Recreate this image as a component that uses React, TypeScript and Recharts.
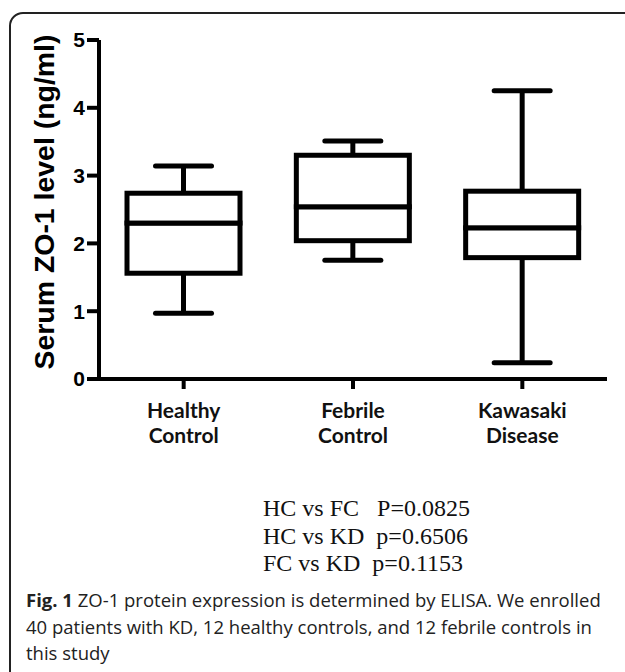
import React from 'react';
import { ComposedChart, Bar, XAxis, YAxis, Label } from 'recharts';

// Box plot values (ng/ml)
const groups = ['Healthy Control', 'Febrile Control', 'Kawasaki Disease'];
const labelTop = ['Healthy', 'Febrile', 'Kawasaki'];
const labelBottom = ['Control', 'Control', 'Disease'];
const minVals = [0.97, 1.75, 0.24];
const q1Vals = [1.56, 2.04, 1.79];
const medianVals = [2.3, 2.54, 2.23];
const q3Vals = [2.74, 3.3, 2.77];
const maxVals = [3.14, 3.51, 4.25];
const yTicks = [0, 1, 2, 3, 4, 5];

const pValues = ['HC vs FC   P=0.0825', 'HC vs KD  p=0.6506', 'FC vs KD  p=0.1153'];

// stacked segments: invisible base, lower whisker, lower box, upper box, upper whisker
const data = groups.map((g, i) => ({
  name: g,
  base: minVals[i],
  lowWhisker: q1Vals[i] - minVals[i],
  lowBox: medianVals[i] - q1Vals[i],
  highBox: q3Vals[i] - medianVals[i],
  highWhisker: maxVals[i] - q3Vals[i],
}));

const LINE = 5;
const CAP = 28;

const Empty = () => <g />;

const LowWhisker = (props: any) => {
  const { x, y, width, height } = props;
  const cx = x + width / 2;
  return (
    <g stroke="#000" strokeWidth={LINE} fill="none">
      <line x1={cx} y1={y} x2={cx} y2={y + height} />
      <line x1={cx - CAP} y1={y + height} x2={cx + CAP} y2={y + height} strokeLinecap="round" />
    </g>
  );
};

const HighWhisker = (props: any) => {
  const { x, y, width, height } = props;
  const cx = x + width / 2;
  return (
    <g stroke="#000" strokeWidth={LINE} fill="none">
      <line x1={cx} y1={y} x2={cx} y2={y + height} />
      <line x1={cx - CAP} y1={y} x2={cx + CAP} y2={y} strokeLinecap="round" />
    </g>
  );
};

const BoxPart = (props: any) => {
  const { x, y, width, height } = props;
  return <rect x={x} y={y} width={width} height={height} fill="#fff" stroke="#000" strokeWidth={LINE} />;
};

const XTick = (props: any) => {
  const { x, y, index } = props;
  return (
    <text
      x={x}
      y={y}
      textAnchor="middle"
      fontFamily="Lato, 'Open Sans', sans-serif"
      fontWeight="bold"
      fontSize={21}
      fill="#111"
    >
      <tspan x={x} dy={27}>{labelTop[index]}</tspan>
      <tspan x={x} dy={25}>{labelBottom[index]}</tspan>
    </text>
  );
};

const YTitle = () => {
  const cx = 45;
  const cy = 202;
  return (
    <text
      x={cx}
      y={cy}
      transform={`rotate(-90, ${cx}, ${cy})`}
      textAnchor="middle"
      dominantBaseline="central"
      fontFamily="'Liberation Sans', Arial, sans-serif"
      fontWeight="bold"
      fontSize={27}
      textLength={335}
      lengthAdjust="spacingAndGlyphs"
      fill="#000"
    >
      Serum ZO-1 level (ng/ml)
    </text>
  );
};

export default function App() {
  return (
    <div
      style={{
        position: 'absolute',
        left: 0,
        top: 0,
        width: 625,
        height: 672,
        overflow: 'hidden',
        background: '#fff',
      }}
    >
      <div
        style={{
          position: 'absolute',
          left: 9,
          top: 12,
          width: 700,
          height: 700,
          border: '2px solid #222',
          borderRadius: 14,
          boxSizing: 'border-box',
        }}
      />
      <div style={{ position: 'absolute', left: 0, top: 0 }}>
        <ComposedChart
          width={625}
          height={460}
          data={data}
          margin={{ top: 40, right: 18, bottom: 0, left: 0 }}
        >
          <XAxis
            dataKey="name"
            height={81}
            tick={<XTick />}
            tickSize={10}
            interval={0}
            axisLine={{ stroke: '#000', strokeWidth: 4 }}
            tickLine={{ stroke: '#000', strokeWidth: 4 }}
          />
          <YAxis
            width={99}
            domain={[0, 5]}
            ticks={yTicks}
            tickSize={12}
            interval={0}
            axisLine={{ stroke: '#000', strokeWidth: 4 }}
            tickLine={{ stroke: '#000', strokeWidth: 4 }}
            tick={{
              fontSize: 21,
              fontWeight: 'bold',
              fill: '#000',
              fontFamily: "'Liberation Sans', Arial, sans-serif",
            }}
          >
            <Label content={<YTitle />} />
          </YAxis>
          <Bar dataKey="base" stackId="a" barSize={113} fill="none" shape={<Empty />} isAnimationActive={false} />
          <Bar dataKey="lowWhisker" stackId="a" barSize={113} shape={<LowWhisker />} isAnimationActive={false} />
          <Bar dataKey="lowBox" stackId="a" barSize={113} shape={<BoxPart />} isAnimationActive={false} />
          <Bar dataKey="highBox" stackId="a" barSize={113} shape={<BoxPart />} isAnimationActive={false} />
          <Bar dataKey="highWhisker" stackId="a" barSize={113} shape={<HighWhisker />} isAnimationActive={false} />
        </ComposedChart>
      </div>
      <div
        style={{
          position: 'absolute',
          left: 263,
          top: 495,
          fontFamily: "'Liberation Serif', 'Times New Roman', serif",
          fontSize: 24,
          lineHeight: '27.5px',
          whiteSpace: 'pre',
          color: '#111',
        }}
      >
        {pValues.map((p) => (
          <div key={p}>{p}</div>
        ))}
      </div>
      <div
        style={{
          position: 'absolute',
          left: 26,
          top: 587,
          fontFamily: "'Open Sans', 'Noto Sans', sans-serif",
          fontSize: 18.5,
          lineHeight: '26.5px',
          color: '#222',
          whiteSpace: 'pre',
        }}
      >
        <div>
          <b>Fig. 1</b> ZO-1 protein expression is determined by ELISA. We enrolled
        </div>
        <div>40 patients with KD, 12 healthy controls, and 12 febrile controls in</div>
        <div>this study</div>
      </div>
    </div>
  );
}
